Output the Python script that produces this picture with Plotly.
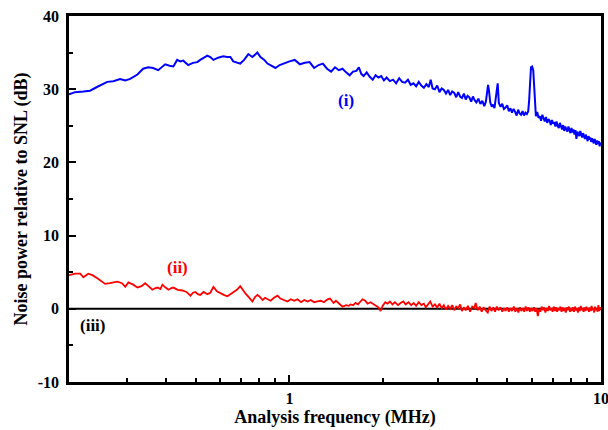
import numpy as np
import plotly.graph_objects as go

# ---------------- data ----------------
blue_freq = [0.196, 0.205, 0.218, 0.229, 0.241, 0.250, 0.260, 0.272, 0.286, 0.297, 0.308, 0.325, 0.339, 0.352,
             0.365, 0.379, 0.390, 0.399, 0.412, 0.424, 0.436, 0.446, 0.456, 0.473, 0.490, 0.506, 0.517, 0.530,
             0.545, 0.557, 0.570, 0.590, 0.613, 0.630, 0.646, 0.660, 0.680, 0.695, 0.715, 0.738, 0.760, 0.789,
             0.807, 0.830, 0.850, 0.875, 0.902, 0.930, 0.956, 0.985,
             1.00, 1.04, 1.08, 1.12, 1.16, 1.20, 1.24, 1.28, 1.32, 1.36, 1.40, 1.44, 1.48, 1.52, 1.56, 1.60,
             1.64, 1.67, 1.70, 1.73, 1.77, 1.81, 1.85, 1.89, 1.93, 1.97, 2.01,
             2.05, 2.10, 2.15, 2.20, 2.25, 2.30, 2.35, 2.40, 2.45, 2.50, 2.55, 2.60, 2.65, 2.70, 2.75, 2.80,
             2.84, 2.88, 2.93, 2.98, 3.03, 3.08, 3.13, 3.18, 3.23, 3.28, 3.33, 3.38, 3.43, 3.48, 3.53, 3.58,
             3.63, 3.68, 3.73, 3.78, 3.83, 3.88, 3.93, 3.98,
             4.04, 4.10, 4.16, 4.22, 4.27, 4.31, 4.34, 4.37, 4.41, 4.46, 4.50, 4.55, 4.62, 4.66, 4.70, 4.76,
             4.82, 4.88, 4.94, 5.00, 5.06, 5.12, 5.18, 5.24, 5.30, 5.36, 5.42, 5.48, 5.54, 5.60, 5.66, 5.72,
             5.78, 5.84, 5.88, 5.92, 5.96, 6.01, 6.06, 6.10, 6.14, 6.18,
             6.24, 6.30, 6.36, 6.42, 6.48, 6.54, 6.60, 6.66, 6.72, 6.78, 6.84, 6.90, 6.96, 7.02, 7.08, 7.14,
             7.20, 7.26, 7.32, 7.38, 7.44, 7.50, 7.56, 7.62, 7.68, 7.74, 7.80, 7.86, 7.92, 7.98, 8.04, 8.10,
             8.16, 8.22, 8.28, 8.34, 8.40, 8.46, 8.52, 8.58, 8.64, 8.70, 8.76, 8.82, 8.88, 8.94, 9.00, 9.06,
             9.12, 9.18, 9.24, 9.30, 9.36, 9.42, 9.48, 9.54, 9.60, 9.66, 9.72, 9.78, 9.84, 9.90, 9.96, 10.0]
blue_db = [29.3, 29.6, 29.7, 29.8, 30.3, 30.6, 31.0, 31.1, 31.4, 31.2, 31.4, 32.0, 32.8, 33.0,
           32.9, 32.6, 33.0, 33.4, 33.2, 33.1, 34.0, 33.8, 33.9, 33.3, 33.6, 33.7, 34.0, 34.3,
           34.6, 34.4, 34.0, 34.3, 34.5, 34.4, 34.4, 33.8, 33.6, 33.5, 34.0, 34.8, 34.4, 35.0,
           34.4, 34.0, 33.5, 33.2, 32.9, 33.3, 33.5, 33.8,
           33.8, 34.0, 33.4, 33.6, 33.7, 32.9, 33.3, 33.5, 32.8, 32.4, 33.0, 32.6, 32.8, 32.3, 31.9, 32.4,
           32.5, 33.0, 32.1, 31.8, 32.3, 31.7, 31.3, 31.9, 31.6, 31.8, 31.2,
           31.6, 31.1, 31.3, 30.8, 31.5, 31.0, 30.9, 31.3, 30.6, 30.8, 30.4, 31.0, 30.5, 30.2, 30.7, 30.3,
           31.3, 30.1, 30.0, 30.5, 29.6, 30.1, 29.9, 29.4, 29.9, 29.2, 29.7, 29.5, 28.9, 29.6, 29.0, 28.8,
           29.4, 28.6, 29.1, 28.9, 28.3, 29.0, 28.5, 28.2,
           28.7, 28.0, 28.4, 27.7, 28.3, 29.5, 30.6, 29.8, 28.2, 27.6, 27.9, 27.4, 29.3, 30.8, 28.1, 27.6,
           28.0, 27.3, 27.5, 27.8, 27.0, 27.4, 26.8, 27.3, 26.9, 26.4, 27.2, 26.7, 26.5, 27.0, 26.4, 26.8,
           26.6, 27.0, 28.5, 32.0, 33.0, 33.1, 32.6, 30.5, 27.5, 26.3,
           26.9, 26.1, 26.3, 25.7, 26.5, 25.9, 25.6, 26.2, 25.4, 25.9, 25.7, 25.1, 25.8, 25.3, 25.5, 24.9,
           25.6, 25.0, 24.7, 25.4, 24.9, 24.5, 25.1, 24.3, 24.9, 24.6, 24.2, 24.9, 24.4, 24.0, 24.7, 24.1,
           24.5, 23.8, 24.4, 23.2, 24.2, 23.9, 23.6, 24.3, 23.7, 23.4, 24.0, 23.6, 23.2, 23.8, 23.4, 22.9,
           23.6, 23.1, 23.4, 22.8, 23.3, 22.9, 22.6, 23.2, 22.7, 22.4, 23.0, 22.5, 22.9, 22.2, 22.7, 22.5]

red_freq = [0.196, 0.205, 0.213, 0.218, 0.226, 0.233, 0.241, 0.248, 0.256, 0.265, 0.280, 0.290, 0.297, 0.304,
            0.315, 0.325, 0.335, 0.344, 0.353, 0.363, 0.370, 0.377, 0.385, 0.391, 0.400, 0.409, 0.416, 0.424,
            0.438, 0.453, 0.467, 0.481, 0.490, 0.499, 0.508, 0.517, 0.530, 0.545, 0.557, 0.570, 0.585, 0.600,
            0.615, 0.632, 0.648, 0.661, 0.678, 0.695, 0.708, 0.722, 0.740, 0.760, 0.775, 0.789, 0.805, 0.820,
            0.835, 0.850, 0.870, 0.892, 0.915, 0.935, 0.960, 0.985, 1.01, 1.035, 1.061, 1.09, 1.115, 1.143,
            1.17, 1.20, 1.23, 1.26, 1.29, 1.325, 1.35, 1.385, 1.41, 1.44, 1.48, 1.52, 1.55, 1.571, 1.60, 1.63,
            1.66, 1.69, 1.716, 1.75, 1.781, 1.82, 1.862, 1.90, 1.93, 1.961, 1.99, 2.03, 2.065, 2.10, 2.14,
            2.18, 2.23, 2.274, 2.32, 2.36, 2.41, 2.46, 2.505, 2.55, 2.60, 2.65, 2.70, 2.74, 2.78, 2.83, 2.88,
            2.93, 2.98, 3.03, 3.08, 3.13, 3.18, 3.23, 3.28, 3.33, 3.38, 3.43, 3.48, 3.53, 3.58, 3.63, 3.68,
            3.74, 3.80, 3.86, 3.92, 3.96, 4.02, 4.08, 4.14, 4.20, 4.26, 4.33, 4.39, 4.45, 4.51, 4.57, 4.63,
            4.69, 4.76, 4.82, 4.88, 4.94, 5.00, 5.06, 5.12, 5.18, 5.25, 5.31, 5.37, 5.43, 5.49, 5.55, 5.61,
            5.67, 5.73, 5.79, 5.85, 5.91, 5.97, 6.03, 6.09, 6.15, 6.21, 6.27, 6.33, 6.39, 6.45, 6.51, 6.57,
            6.63, 6.69, 6.75, 6.81, 6.87, 6.93, 6.99, 7.05, 7.11, 7.17, 7.23, 7.29, 7.35, 7.41, 7.47, 7.53,
            7.59, 7.65, 7.71, 7.77, 7.83, 7.89, 7.95, 8.01, 8.07, 8.13, 8.19, 8.25, 8.31, 8.37, 8.43, 8.49,
            8.55, 8.61, 8.67, 8.73, 8.79, 8.85, 8.91, 8.97, 9.03, 9.09, 9.15, 9.21, 9.27, 9.33, 9.39, 9.45,
            9.51, 9.57, 9.63, 9.69, 9.75, 9.81, 9.87, 9.93, 10.0]
red_db = [4.6, 4.8, 4.8, 4.3, 4.8, 4.6, 4.2, 3.8, 3.4, 3.5, 3.7, 3.5, 3.0, 3.6,
          3.3, 2.9, 3.1, 3.5, 3.0, 2.6, 2.8, 2.9, 2.7, 3.3, 2.9, 2.6, 2.8, 2.9,
          2.6, 2.5, 2.3, 1.8, 2.2, 2.3, 2.0, 1.9, 2.3, 2.0, 2.2, 3.0, 2.4, 2.1,
          1.9, 1.7, 2.0, 2.3, 2.6, 3.1, 2.6, 2.1, 1.6, 1.0, 1.6, 1.9, 1.6, 1.2,
          1.5, 1.3, 1.1, 1.5, 1.8, 1.4, 1.2, 1.0, 1.3, 1.1, 1.3, 0.9, 1.2, 1.0,
          1.2, 0.9, 1.0, 1.1, 0.9, 1.3, 1.4, 0.8, 1.1, 0.7, 0.3, 0.5, 0.4, 0.6, 0.5, 0.8,
          0.6, 1.0, 1.3, 1.1, 0.7, 0.9, 0.6, 0.4, 0.2, -0.3, 0.4, 0.9, 0.7, 1.0, 0.6,
          0.9, 0.5, 0.8, 1.0, 0.6, 0.9, 0.5, 0.8, 0.4, 0.9, 0.5, 0.7, 0.2, 0.6, 1.0, 0.3,
          0.6, 0.2, 0.7, 0.1, 0.5, -0.1, 0.4, 0.0, 0.5, -0.2, 0.3, 0.1, 0.6, -0.3, 0.2, -0.2,
          0.4, -0.4, 0.3, 0.1, 0.8, -0.2, 0.3, -0.4, 0.2, -0.2, -0.5, 0.3, -0.3, 0.2, -0.4, 0.3,
          -0.2, 0.2, -0.4, 0.1, -0.3, 0.2, -0.4, 0.1, -0.3, 0.3, -0.4, 0.1, -0.5, 0.2, -0.3, 0.1,
          -0.4, 0.3, -0.3, 0.2, -0.4, 0.1, -0.3, 0.2, -0.4, 0.1, -1.0, 0.0, -0.4, 0.3, -0.2, 0.2,
          -0.5, 0.1, -0.3, 0.4, -0.2, 0.1, -0.4, 0.3, -0.3, 0.2, -0.4, 0.1, -0.2, 0.3, -0.4, 0.2,
          -0.3, 0.1, -0.5, 0.2, -0.2, 0.3, -0.4, 0.1, -0.3, 0.2, -0.4, 0.3, -0.2, 0.1, -0.5, 0.2,
          -0.3, 0.4, -0.2, 0.1, -0.4, 0.2, -0.3, 0.3, -0.2, 0.1, -0.4, 0.2, -0.3, 0.4, -0.2, 0.1,
          -0.5, 0.3, -0.2, 0.1, -0.4, 0.5, -0.3, 0.2, -0.1]

snl_freq = [0.196, 10.0]
snl_db = [0.0, 0.0]

x_major_ticks = [1, 10]
x_minor_ticks = [0.3, 0.4, 0.5, 0.6, 0.7, 0.8, 0.9, 2, 3, 4, 5, 6, 7, 8, 9]
y_ticks = [-10, 0, 10, 20, 30, 40]

labels = [("(i)", 1.52, 28.5, "#0000FF"), ("(ii)", 0.436, 5.7, "#FF0000"), ("(iii)", 0.234, -2.3, "#000000")]

# ---------------- figure ----------------
FONT = "Liberation Serif"
fig = go.Figure()
fig.add_trace(go.Scatter(x=snl_freq, y=snl_db, mode="lines", line=dict(color="#000000", width=2),
                         showlegend=False, hoverinfo="skip"))
fig.add_trace(go.Scatter(x=red_freq, y=red_db, mode="lines", line=dict(color="#FF0000", width=1.8),
                         showlegend=False))
fig.add_trace(go.Scatter(x=blue_freq, y=blue_db, mode="lines", line=dict(color="#0000FF", width=2.0),
                         showlegend=False))

for txt, fx, fy, col in labels:
    fig.add_annotation(x=np.log10(fx), y=fy, text=txt, showarrow=False,
                       font=dict(family=FONT, size=17, color=col, weight="bold"))

fig.update_layout(
    width=608, height=430,
    margin=dict(l=69, r=7, t=16, b=48),
    paper_bgcolor="white", plot_bgcolor="white",
    font=dict(family=FONT, color="black"),
)
fig.update_xaxes(
    type="log", range=[np.log10(0.196), 1.0], automargin=False,
    tickmode="array", tickvals=x_major_ticks, ticktext=[str(v) for v in x_major_ticks],
    ticklabeloverflow="allow",
    ticks="inside", ticklen=7, tickwidth=2, tickcolor="black",
    minor=dict(tickmode="array", tickvals=x_minor_ticks, ticks="inside", ticklen=4, tickwidth=2,
               tickcolor="black", showgrid=False),
    showline=True, linewidth=2.5, linecolor="black", mirror=True,
    showgrid=False, zeroline=False,
    tickfont=dict(family=FONT, size=16, weight="bold", color="black"),
    title=dict(text="Analysis frequency (MHz)", standoff=2,
               font=dict(family=FONT, size=18, weight="bold", color="black")),
)
fig.update_yaxes(
    range=[-10, 40], automargin=False,
    tickmode="array", tickvals=y_ticks, ticktext=[str(v) for v in y_ticks],
    ticklabeloverflow="allow",
    ticks="inside", ticklen=7, tickwidth=2, tickcolor="black",
    minor=dict(dtick=5, ticks="inside", ticklen=4, tickwidth=2, tickcolor="black", showgrid=False),
    showline=True, linewidth=2.5, linecolor="black", mirror=True,
    showgrid=False, zeroline=False,
    ticklabelstandoff=4,
    tickfont=dict(family=FONT, size=16, weight="bold", color="black"),
    title=dict(text="Noise power relative to SNL (dB)", standoff=6,
               font=dict(family=FONT, size=18, weight="bold", color="black")),
)

fig.write_html("out.html", config={"displayModeBar": False},
               post_script="document.body.style.margin='0';document.body.style.padding='0';")
